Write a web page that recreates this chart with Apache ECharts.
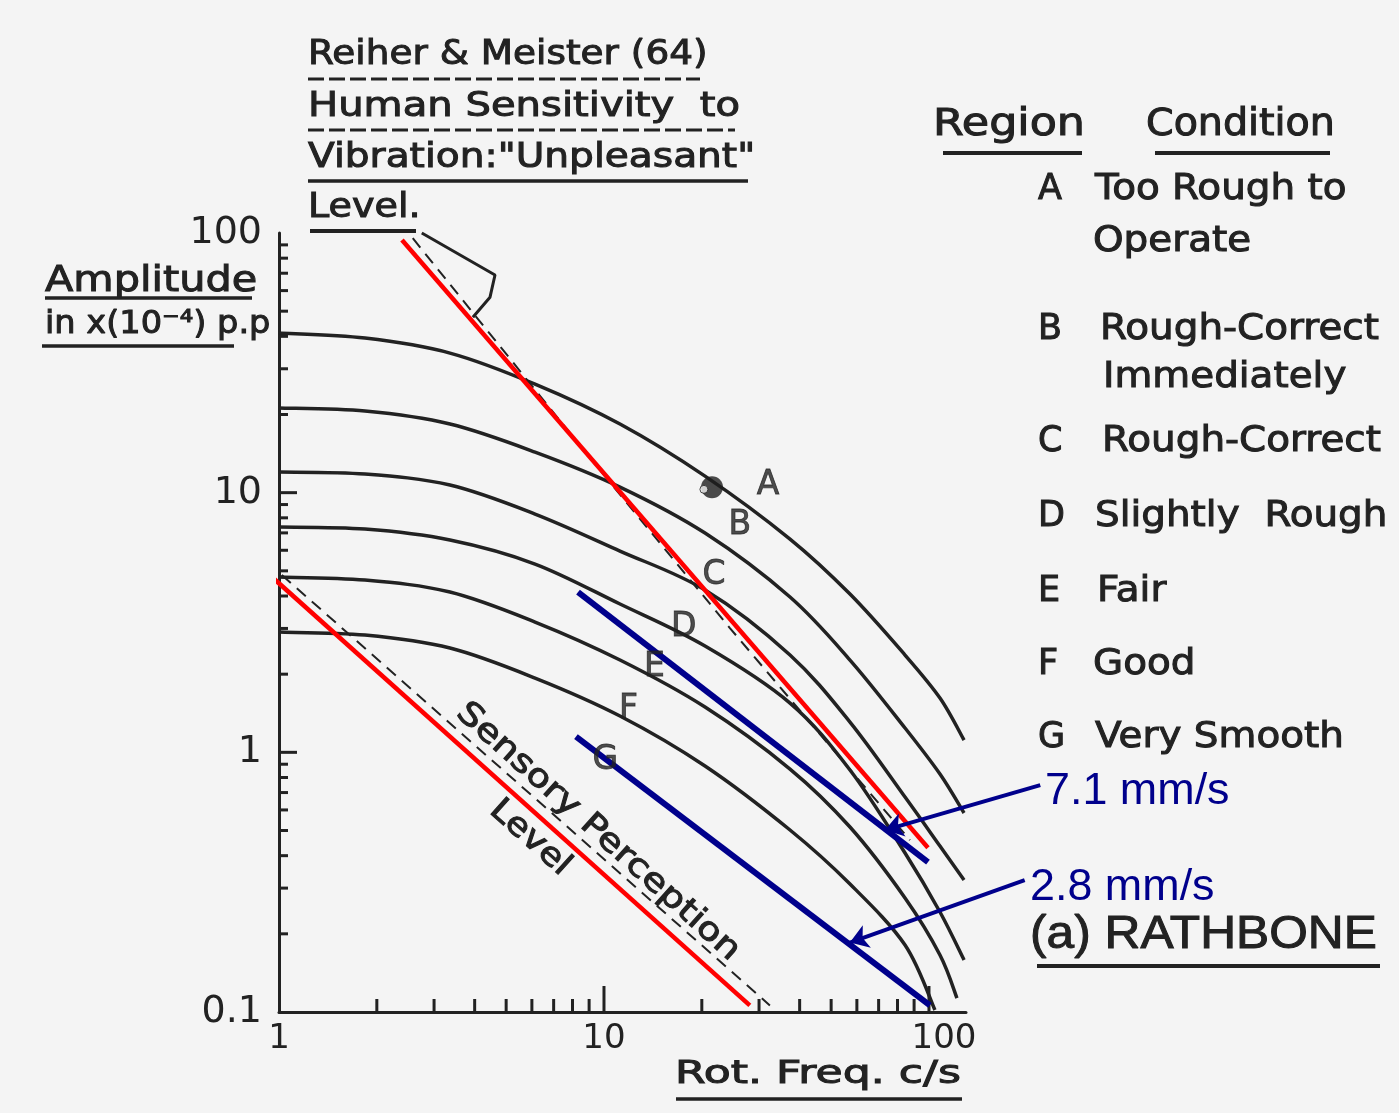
<!DOCTYPE html>
<html>
<head>
<meta charset="utf-8">
<script src="https://cdn.jsdelivr.net/npm/echarts@6/dist/echarts.min.js"></script>
<style>
html,body{margin:0;padding:0;background:#f4f4f4;}
#chart{width:1399px;height:1113px;}
</style>
</head>
<body>
<div id="chart"></div>
<script>
// ---- data (frequency c/s, amplitude x1e-4 in p.p) ----
const boundaryAB = [[1,41.18],[1.839,39.38],[3.358,34.48],[6.135,26.19],[11.20,18.38],[20.46,11.58],[37.36,6.626],[57.14,4.069],[84.40,2.370],[108.1,1.619],[128.2,1.115]];
const boundaryBC = [[1,21.18],[1.839,20.62],[3.358,18.38],[6.135,14.33],[11.20,10.51],[20.46,6.99],[37.36,3.963],[57.14,2.267],[84.40,1.241],[108.1,0.825],[128.2,0.584]];
const boundaryCD = [[1,12.0],[1.839,11.79],[3.358,10.70],[6.135,8.274],[11.20,5.959],[20.46,4.217],[37.36,2.370],[57.14,1.308],[84.40,0.6729],[108.1,0.4357],[128.2,0.3224]];
const boundaryDE = [[1,7.37],[1.839,7.24],[3.358,6.57],[6.135,5.311],[11.20,3.725],[20.46,2.567],[37.36,1.548],[57.14,0.855],[84.40,0.4095],[108.1,0.2427],[128.2,0.1586]];
const boundaryEF = [[1,4.732],[1.839,4.608],[3.358,4.142],[6.135,3.175],[11.20,2.267],[20.46,1.494],[37.36,0.8624],[57.14,0.5156],[84.40,0.2748],[108.1,0.1658],[121.9,0.1132]];
const boundaryFG = [[1,2.905],[1.839,2.829],[3.358,2.521],[6.135,1.932],[11.20,1.380],[20.46,0.8858],[37.36,0.5022],[57.14,0.3111],[84.40,0.1811],[104.3,0.1018]];

const unpleasantRed = [[2.39,94],[99.3,0.429]];
const sensoryRed = [[0.952,4.73],[28.1,0.106]];
const unpleasantDashed = [[2.58,95.5],[9.72,12.2],[24.4,3.01],[87.4,0.459]];
const sensoryDashed = [[1.02,4.82],[32.4,0.106]];
const unpleasantBracket = [[2.75,100],[4.62,68.9],[4.46,56.6],[3.95,47.4]];
const limit71 = [[8.32,4.14],[99.3,0.378]];
const limit28 = [[8.2,1.15],[100.7,0.106]];
const arrow71 = [[220,0.748],[73.2,0.502]];
const arrow28 = [[197,0.322],[57.1,0.185]];
const markerPoint = [[21.5,10.5]];
const markerHole = [[20.3,10.3]];

const regionLetters = ['A','B','C','D','E','F','G'];
const regionLabelPos = [[32.0,10.7],[26.2,7.50],[21.8,4.82],[17.6,3.04],[14.3,2.13],[11.9,1.46],[10.1,0.934]];
const regionConditions = [['Too Rough to','Operate'],['Rough-Correct','Immediately'],['Rough-Correct'],['Slightly  Rough'],['Fair'],['Good'],['Very Smooth']];

const xLabelValues = [1,10,100];
const xLabelTexts = ['1','10','100'];
const yLabelValues = [0.1,1,10,100];
const yLabelTexts = ['0.1','1','10','100'];
const xMinorTicks = [2,3,4,5,6,7,8,9,20,30,40,50,60,70,80,90];
const xMajorTicks = [10,100];
const yMinorTicks = [0.2,0.3,0.4,0.5,0.6,0.7,0.8,0.9,2,3,4,5,6,7,8,9,20,30,40,50,60,70,80,90];
const yMajorTicks = [1,10];

// ---- chart ----
const INK = '#222222';
const RED = '#ff0000';
const BLUE = '#00008c';
const FONT = '"DejaVu Sans", sans-serif';
const SANS = '"Liberation Sans", sans-serif';
const boundaries = [boundaryAB, boundaryBC, boundaryCD, boundaryDE, boundaryEF, boundaryFG];

function pickLabel(v, vals, texts){
  for (let i=0;i<vals.length;i++){
    if (Math.abs(Math.log10(v)-Math.log10(vals[i]))<1e-6) return texts[i];
  }
  return '';
}

const chart = echarts.init(document.getElementById('chart'));

// smooth path through the scaled points (Catmull-Rom drawn as cubic Beziers)
function splinePath(pts){
  let d = 'M' + pts[0][0] + ',' + pts[0][1];
  for (let i=0;i<pts.length-1;i++){
    const p0 = pts[i-1]||pts[i], p1 = pts[i], p2 = pts[i+1], p3 = pts[i+2]||pts[i+1];
    const c1x = p1[0] + (p2[0]-p0[0])/6, c1y = p1[1] + (p2[1]-p0[1])/6;
    const c2x = p2[0] - (p3[0]-p1[0])/6, c2y = p2[1] - (p3[1]-p1[1])/6;
    d += ' C' + c1x + ',' + c1y + ' ' + c2x + ',' + c2y + ' ' + p2[0] + ',' + p2[1];
  }
  return d;
}

function straight(data, color, width, dash, z){
  return {type:'line', data:data, symbol:'none', clip:false,
    lineStyle:{color:color, width:width, type:dash||'solid'}, z:z||4, silent:true};
}

const tickData = [];
xMinorTicks.forEach(v=>tickData.push([v,0.1,0,13]));
xMajorTicks.forEach(v=>tickData.push([v,0.1,0,26]));
yMinorTicks.forEach(v=>tickData.push([1,v,1,9]));
yMajorTicks.forEach(v=>tickData.push([1,v,1,18]));

const labelData = regionLetters.map((l,i)=>({name:l, value:regionLabelPos[i]}));

const graphics = [];
function addText(t, x, y, size, opts){
  opts = opts||{};
  const color = opts.color||INK;
  graphics.push({type:'text', x:x, y:y, rotation:opts.rotation||0, scaleX:opts.scaleX||1,
    style:{text:t, font:(opts.weight||'normal')+' '+size+'px '+(opts.family||FONT), fill:color,
      textAlign:opts.align||'left', textVerticalAlign:'middle',
      stroke:opts.bold===0?null:color, lineWidth:opts.bold===0?0:(opts.bold||1)}});
}
function addLine(x1,y1,x2,y2,w,dash,color){
  graphics.push({type:'line', shape:{x1:x1,y1:y1,x2:x2,y2:y2},
    style:{stroke:color||INK, lineWidth:w, lineDash:dash||null}});
}

// title block
addText('Reiher & Meister (64)', 308, 55, 34, {scaleX:1.1});
addText('Human Sensitivity  to', 308, 107, 34, {scaleX:1.18});
addText('Vibration:"Unpleasant"', 308, 158, 34, {scaleX:1.15});
addText('Level.', 308, 208, 34, {scaleX:1.12});
addLine(308,79,700,79,3,[16,5]);
addLine(308,130,735,130,3,[16,5]);
addLine(308,181,748,181,3.5);
addLine(310,231,416,231,4);

// y axis title
addText('Amplitude', 45, 282, 36, {scaleX:1.15});
addText('in x(10\u207B\u2074) p.p', 45, 325, 32, {scaleX:1.05});
addLine(45,298,252,298,3.5);
addLine(42,346,234,346,3.5);

// x axis title
addText('Rot. Freq. c/s', 675, 1075, 32, {scaleX:1.38});
addLine(676,1099,962,1099,3.5);

// region / condition table
addText('Region', 933, 125, 37, {scaleX:1.2});
addText('Condition', 1146, 125, 37, {scaleX:1.07});
addLine(943,153,1082,153,4);
addLine(1155,153,1330,153,4);
const rowY = [[190,242],[330,378],[442],[517],[592],[665],[738]];
const rowX = [[1095,1093],[1100,1103],[1102],[1095],[1097],[1093],[1095]];
regionLetters.forEach((l,i)=>{
  addText(l, 1038, rowY[i][0], 35, {});
  regionConditions[i].forEach((c,j)=>{
    addText(c, rowX[i][j], rowY[i][j], 36, {scaleX:1.08});
  });
});

// sensory perception label
addText('Sensory Perception', 598, 832, 32, {rotation:-0.732, scaleX:1.2, align:'center'});
addText('Level', 530, 838, 32, {rotation:-0.732, scaleX:1.15, align:'center'});

// annotations
addText('7.1 mm/s', 1045, 792, 44, {family:SANS, color:BLUE, bold:0, scaleX:1.02});
addText('2.8 mm/s', 1030, 888, 44, {family:SANS, color:BLUE, bold:0, scaleX:1.02});
addText('(a) RATHBONE', 1030, 935, 46, {family:SANS, scaleX:1.08, bold:1});
addLine(1037,966,1380,966,4);

const option = {
  backgroundColor:'#f4f4f4',
  animation:false,
  grid:{left:279, right:433, top:233, bottom:101, containLabel:false},
  xAxis:{type:'log', logBase:10, min:1, max:130,
    axisLine:{show:true, onZero:false, lineStyle:{color:INK, width:3}},
    axisTick:{show:false}, splitLine:{show:false}, minorTick:{show:false},
    axisLabel:{show:true, showMaxLabel:false, margin:10, color:INK, fontSize:34, fontFamily:FONT,
      formatter:v=>{const t=pickLabel(v,xLabelValues,xLabelTexts); return t==='100'?'{r|100}':t;},
      rich:{r:{fontSize:34, fontFamily:FONT, color:INK, padding:[0,0,0,30]}}}},
  yAxis:{type:'log', logBase:10, min:0.1, max:100,
    axisLine:{show:true, onZero:false, lineStyle:{color:INK, width:3}},
    axisTick:{show:false}, splitLine:{show:false},
    axisLabel:{show:true, margin:17, color:INK, fontSize:38, fontFamily:FONT,
      formatter:v=>pickLabel(v,yLabelValues,yLabelTexts)}},
  graphic:graphics,
  series:[
    {type:'custom', data:tickData, clip:false, silent:true, z:5,
      renderItem:function(params, api){
        const p = api.coord([api.value(0), api.value(1)]);
        const dir = api.value(2), len = api.value(3);
        const shape = dir===0 ? {x1:p[0],y1:p[1],x2:p[0],y2:p[1]-len} : {x1:p[0],y1:p[1],x2:p[0]+len,y2:p[1]};
        return {type:'line', shape:shape, style:{stroke:INK, lineWidth:3}};
      }},
    {type:'custom', clip:false, silent:true, z:3,
      dimensions:['x','y','idx'], encode:{x:0, y:1},
      data:boundaries.map((b,i)=>[b[0][0], b[0][1], i]),
      renderItem:function(params, api){
        const pts = boundaries[api.value(2)].map(p=>api.coord(p));
        return {type:'path', shape:{pathData:splinePath(pts)},
          style:{stroke:INK, lineWidth:3.5, fill:null}};
      }},
    straight(unpleasantDashed, INK, 2, [12,8], 3),
    straight(sensoryDashed, INK, 2, [12,8], 3),
    straight(unpleasantBracket, INK, 3, 'solid', 3),
    straight(unpleasantRed, RED, 4.5, 'solid', 6),
    straight(sensoryRed, RED, 4.5, 'solid', 6),
    straight(limit71, BLUE, 6, 'solid', 7),
    straight(limit28, BLUE, 6, 'solid', 7),
    {type:'lines', coordinateSystem:'cartesian2d', clip:false, silent:true, z:8,
      symbol:['none','arrow'], symbolSize:[0,18],
      lineStyle:{color:BLUE, width:4, opacity:1, curveness:0},
      data:[{coords:arrow71},{coords:arrow28}]},
    {type:'scatter', data:markerPoint, symbolSize:22, itemStyle:{color:'#1e1e1e'}, z:9, silent:true},
    {type:'scatter', data:markerHole, symbolSize:8, itemStyle:{color:'#f4f4f4', borderColor:'#1e1e1e', borderWidth:1}, z:10, silent:true},
    {type:'scatter', data:labelData, symbolSize:1, itemStyle:{color:'rgba(0,0,0,0)'}, z:10, silent:true,
      label:{show:true, position:'inside', formatter:'{b}', color:INK, fontSize:33, fontFamily:FONT,
        textBorderColor:INK, textBorderWidth:0.8}}
  ]
};
chart.setOption(option);
</script>
</body>
</html>
